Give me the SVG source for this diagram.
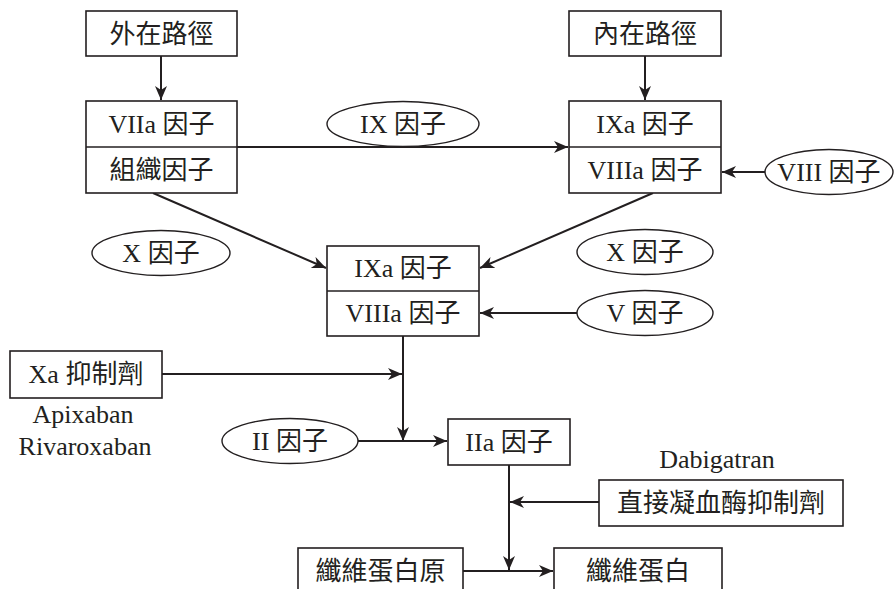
<svg xmlns="http://www.w3.org/2000/svg" width="895" height="589" viewBox="0 0 895 589">
<style>
.box{fill:#fff;stroke:#231f20;stroke-width:1.6}
.ell{fill:#fff;stroke:#231f20;stroke-width:1.4}
.ln{fill:none;stroke:#231f20;stroke-width:2}
text{font-family:"Liberation Serif","Noto Sans CJK TC",serif;font-size:26px;fill:#231f20;text-anchor:middle}
</style>
<defs>
<marker id="ah" markerWidth="15" markerHeight="13" refX="14" refY="6" orient="auto" markerUnits="userSpaceOnUse">
<path d="M0,0 L14,6 L0,12 L4,6 z" fill="#231f20"/>
</marker>
</defs>
<rect width="895" height="589" fill="#fff"/>
<g id="connectors">
<line class="ln" x1="161" y1="56" x2="161" y2="100" marker-end="url(#ah)"/>
<line class="ln" x1="645" y1="56" x2="645" y2="100" marker-end="url(#ah)"/>
<line class="ln" x1="237" y1="147" x2="568" y2="147" marker-end="url(#ah)"/>
<line class="ln" x1="765" y1="172" x2="722" y2="172" marker-end="url(#ah)"/>
<line class="ln" x1="153" y1="193" x2="326" y2="268" marker-end="url(#ah)"/>
<line class="ln" x1="653" y1="193" x2="480" y2="268" marker-end="url(#ah)"/>
<line class="ln" x1="577" y1="313" x2="480" y2="313" marker-end="url(#ah)"/>
<line class="ln" x1="162" y1="374" x2="402" y2="374" marker-end="url(#ah)"/>
<line class="ln" x1="403" y1="336" x2="403" y2="441" marker-end="url(#ah)"/>
<line class="ln" x1="358" y1="441" x2="447" y2="441" marker-end="url(#ah)"/>
<line class="ln" x1="509" y1="465" x2="509" y2="570" marker-end="url(#ah)"/>
<line class="ln" x1="599" y1="502" x2="510" y2="502" marker-end="url(#ah)"/>
<line class="ln" x1="463" y1="571" x2="553" y2="571" marker-end="url(#ah)"/>
</g>
<g id="extrinsic"><rect class="box" x="86" y="11" width="151" height="45"/><text x="161.5" y="43">外在路徑</text></g>
<g id="intrinsic"><rect class="box" x="569" y="11" width="152" height="45"/><text x="645" y="43">內在路徑</text></g>
<g id="viia-tf"><rect class="box" x="86" y="101" width="151" height="92"/><line class="box" x1="86" y1="147" x2="237" y2="147"/><text x="161.5" y="133">VIIa 因子</text><text x="161.5" y="179">組織因子</text></g>
<g id="ixa-viiia-top"><rect class="box" x="569" y="101" width="152" height="92"/><line class="box" x1="569" y1="147" x2="721" y2="147"/><text x="645" y="133">IXa 因子</text><text x="645" y="179">VIIIa 因子</text></g>
<g id="ix"><ellipse class="ell" cx="403" cy="124" rx="76" ry="22.5"/><text x="403" y="133">IX 因子</text></g>
<g id="viii"><ellipse class="ell" cx="829" cy="172" rx="64" ry="22.5"/><text x="829" y="181">VIII 因子</text></g>
<g id="x-left"><ellipse class="ell" cx="161" cy="253" rx="69" ry="22.5"/><text x="161" y="262">X 因子</text></g>
<g id="x-right"><ellipse class="ell" cx="645" cy="252" rx="68" ry="22.5"/><text x="645" y="261">X 因子</text></g>
<g id="v"><ellipse class="ell" cx="645" cy="313" rx="68" ry="22.5"/><text x="645" y="322">V 因子</text></g>
<g id="ixa-viiia-mid"><rect class="box" x="327" y="246" width="152" height="90"/><line class="box" x1="327" y1="291" x2="479" y2="291"/><text x="403" y="277">IXa 因子</text><text x="403" y="322">VIIIa 因子</text></g>
<g id="xa-inhibitor"><rect class="box" x="10" y="351" width="152" height="47"/><text x="86" y="383">Xa 抑制劑</text><text x="83" y="423">Apixaban</text><text x="85" y="455">Rivaroxaban</text></g>
<g id="ii"><ellipse class="ell" cx="290" cy="441" rx="68" ry="22.5"/><text x="290" y="450">II 因子</text></g>
<g id="iia"><rect class="box" x="448" y="419" width="122" height="46"/><text x="509" y="451">IIa 因子</text></g>
<g id="dti"><text x="717" y="468">Dabigatran</text><rect class="box" x="599" y="480" width="244" height="46"/><text x="721" y="512">直接凝血酶抑制劑</text></g>
<g id="fibrinogen"><rect class="box" x="298" y="548" width="165" height="60"/><text x="380.5" y="580">纖維蛋白原</text></g>
<g id="fibrin"><rect class="box" x="554" y="548" width="168" height="60"/><text x="638" y="580">纖維蛋白</text></g>
</svg>
